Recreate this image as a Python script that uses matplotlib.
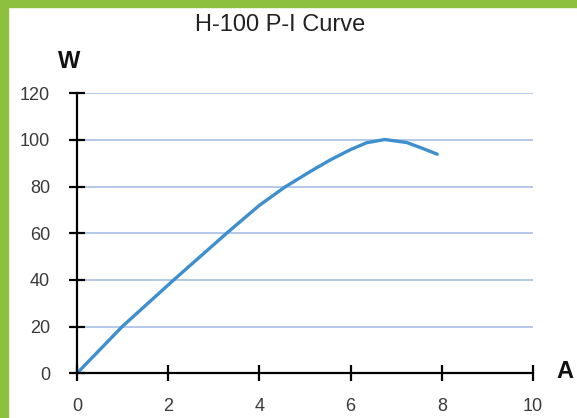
import numpy as np
import matplotlib.pyplot as plt
from matplotlib.patches import Rectangle

# data
current = [0, 0.99, 2.12, 3.28, 4.0, 4.55, 5.10, 5.55, 5.99, 6.35, 6.75, 7.23, 7.59, 7.90]
power = [0, 20, 40, 60, 72, 79.7, 86.3, 91.4, 95.8, 98.8, 100.2, 98.9, 96.3, 93.9]
x_ticks = [0, 2, 4, 6, 8, 10]
y_ticks = [0, 20, 40, 60, 80, 100, 120]

plt.rcParams['font.family'] = ['Liberation Sans', 'DejaVu Sans']

fig = plt.figure(figsize=(5.77, 4.18), dpi=100)
fig.patch.set_facecolor('white')

# green frame on left and top
green = '#8dc03f'
fig.patches.append(Rectangle((0, 0), 8 / 577, 1, transform=fig.transFigure, color=green, zorder=0))
fig.patches.append(Rectangle((0, 1 - 7 / 418), 1, 7 / 418, transform=fig.transFigure, color=green, zorder=0))

ax = fig.add_axes([77 / 577, 1 - 373.3 / 418, 456 / 577, 280 / 418])
ax.set_xlim(0, 10)
ax.set_ylim(0, 120)

for y in y_ticks[1:]:
    ax.axhline(y, color='#b4c8e8', lw=1.4, zorder=1)

ax.plot(current, power, color='#3e8fce', lw=2.4, solid_capstyle='round',
        solid_joinstyle='round', zorder=3)

for s in ['top', 'right']:
    ax.spines[s].set_visible(False)
for s in ['left', 'bottom']:
    ax.spines[s].set_linewidth(1.6)
    ax.spines[s].set_color('black')
    ax.spines[s].set_zorder(4)

ax.set_xticks(x_ticks)
ax.set_yticks(y_ticks)
ax.tick_params(direction='inout', length=11, width=1.6, color='black',
               labelsize=13, labelcolor='#3a3a3a')
ax.tick_params(axis='y', pad=14)
ax.tick_params(axis='x', pad=12.5)

fig.text(280 / 577, 1 - 25 / 418, 'H-100 P-I Curve', ha='center', va='center',
         fontsize=17, color='#222222')
fig.text(69 / 577, 1 - 62 / 418, 'W', ha='center', va='center',
         fontsize=17, fontweight='bold', color='#111111')
fig.text(565 / 577, 1 - 371.5 / 418, 'A', ha='center', va='center',
         fontsize=17, fontweight='bold', color='#111111')

fig.savefig('out.png', dpi=100, facecolor='white')
